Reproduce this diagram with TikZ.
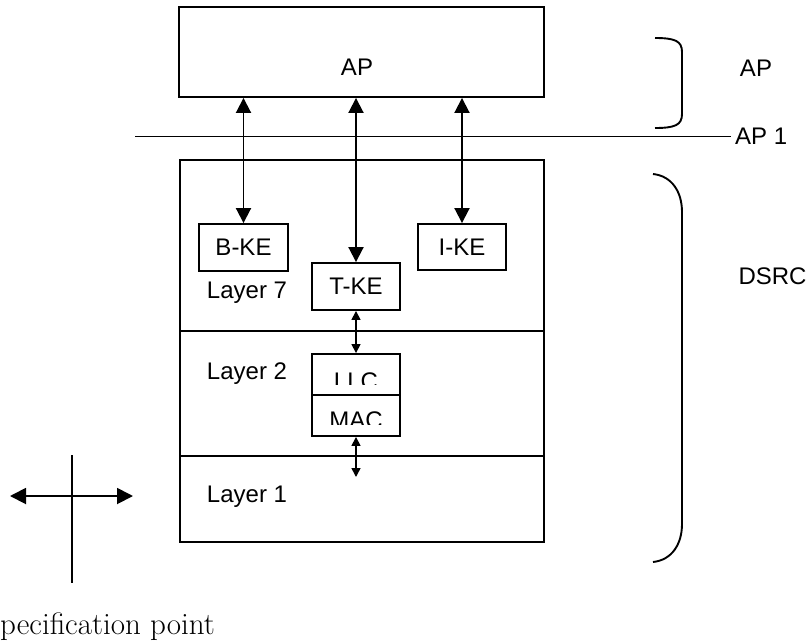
\documentclass[tikz,border=0pt]{standalone}
\usepackage{fontspec}
\setsansfont{Liberation Sans}
\usetikzlibrary{arrows.meta}
\begin{document}
\begin{tikzpicture}[x=1pt,y=-1pt,
  box/.style={draw, line width=1.9pt, inner sep=0pt},
  lbl/.style={font=\sffamily\fontsize{24}{28}\selectfont, inner sep=0pt},
  bigarr/.style={line width=1.9pt, {Triangle[length=15pt,width=15pt]}-{Triangle[length=15pt,width=15pt]}},
  smallarr/.style={line width=1.6pt, {Triangle[length=9pt,width=9pt]}-{Triangle[length=9pt,width=9pt]}},
  crossarr/.style={line width=1.9pt, {Triangle[length=16pt,width=16pt]}-{Triangle[length=16pt,width=16pt]}},
  rule/.style={line width=1.9pt},
]
\useasboundingbox (0,0) rectangle (809,641);

% AP box
\node[box, minimum width=365pt, minimum height=90pt] (apbox) at (361.5,52) {};
\node[lbl] (aptext) at (357,67) {AP};

% AP 1 line
\coordinate (l1) at (135,136.5);
\coordinate (l2) at (731,136.5);
\draw[rule] (l1) -- (l2);
\node[lbl, anchor=west] (ap1) at (735,136.5) {AP 1};

% right braces
\draw[rule] (655,38) .. controls (675,38) and (682,41) .. (682,52) -- (682,114) .. controls (682,125) and (675,128) .. (655,128);
\node[lbl] (aplabel) at (756,68) {AP};
\draw[rule] (653,174) .. controls (672,176) and (682,192) .. (682,212) -- (682,524) .. controls (682,544) and (672,560) .. (653,562);
\node[lbl] (dsrclabel) at (772.5,276) {DSRC};

% DSRC box with layers
\node[box, minimum width=364pt, minimum height=382pt] (dsrc) at (362,351) {};
\coordinate (s1l) at (180,331);
\coordinate (s1r) at (544,331);
\coordinate (s2l) at (180,456);
\coordinate (s2r) at (544,456);
\draw[rule] (s1l) -- (s1r);
\draw[rule] (s2l) -- (s2r);

\node[lbl] (l7) at (247,293) {Layer 7};
\node[lbl] (l2t) at (247,374) {Layer 2};
\node[lbl] (l1t) at (247,497) {Layer 1};

% KE boxes
\node[box, minimum width=89pt, minimum height=47pt, lbl] (bke) at (243.5,247.5) {B-KE};
\node[box, minimum width=88pt, minimum height=46pt, lbl] (ike) at (462,247) {I-KE};
\node[box, minimum width=88pt, minimum height=47pt, lbl] (tke) at (356,286.5) {T-KE};

% LLC / MAC boxes
\node[box, minimum width=88pt, minimum height=41pt] (llc) at (356,374.5) {};
\node[box, minimum width=88pt, minimum height=41pt] (mac) at (356,415.5) {};
\begin{scope}
  \clip (312,354) rectangle (400,384);
  \node[lbl, anchor=base] (llctext) at (356,389) {LLC};
\end{scope}
\begin{scope}
  \clip (312,395) rectangle (400,424);
  \node[lbl, anchor=base] (mactext) at (356,428) {MAC};
\end{scope}

% arrows
\draw[bigarr] (apbox.south -| bke.north) -- (bke.north);
\draw[bigarr] (apbox.south -| tke.north) -- (tke.north);
\draw[bigarr] (apbox.south -| ike.north) -- (ike.north);
\draw[smallarr] (tke.south) -- (llc.north);
\coordinate (phy) at (356,477);
\draw[smallarr] (mac.south) -- (phy);

% specification point cross
\coordinate (hl) at (10,496);
\coordinate (hr) at (133,496);
\coordinate (vt) at (72,455);
\coordinate (vb) at (72,583);
\draw[crossarr] (hl) -- (hr);
\draw[rule] (vt) -- (vb);
\node[anchor=base west, inner sep=0pt, font=\fontsize{31}{36}\selectfont] (spec) at (0,634) {pecification point};

\end{tikzpicture}
\end{document}
